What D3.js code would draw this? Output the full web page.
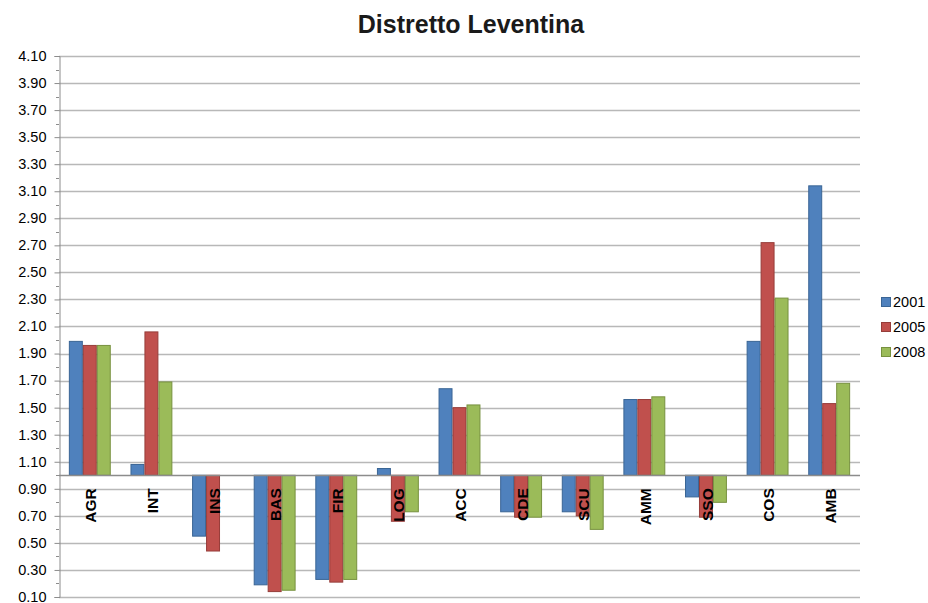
<!DOCTYPE html>
<html>
<head>
<meta charset="UTF-8">
<title>Distretto Leventina</title>
<script src="https://cdnjs.cloudflare.com/ajax/libs/d3/7.8.5/d3.min.js"></script>
<style>
  body { margin: 0; background: #fff; }
  text { font-family: "Liberation Sans", Arial, sans-serif; fill: #000; }
</style>
</head>
<body>
<script>
// data
var categories = ["AGR", "INT", "INS", "BAS", "FIR", "LOG", "ACC", "CDE", "SCU", "AMM", "SSO", "COS", "AMB"];
var series = ["2001", "2005", "2008"];
var v2001 = [1.99, 1.08, 0.55, 0.19, 0.23, 1.05, 1.64, 0.73, 0.73, 1.56, 0.84, 1.99, 3.14];
var v2005 = [1.96, 2.06, 0.44, 0.14, 0.21, 0.66, 1.50, 0.69, 0.70, 1.56, 0.69, 2.72, 1.53];
var v2008 = [1.96, 1.69, 1.00, 0.15, 0.23, 0.73, 1.52, 0.69, 0.60, 1.58, 0.80, 2.31, 1.68];
var yTicks = [0.10, 0.30, 0.50, 0.70, 0.90, 1.10, 1.30, 1.50, 1.70, 1.90, 2.10,
              2.30, 2.50, 2.70, 2.90, 3.10, 3.30, 3.50, 3.70, 3.90, 4.10];
var baseValue = 1.0;

var fills = ["#4F81BD", "#C0504D", "#9BBB59"];
var strokes = ["#3A6595", "#963D3A", "#77913F"];

var W = 928, H = 603;
var plot = {left: 59, right: 860, top: 56, bottom: 597};

var svg = d3.select("body").append("svg")
    .attr("width", W)
    .attr("height", H);

var x0 = d3.scaleBand()
    .domain(categories)
    .range([plot.left, plot.right])
    .paddingInner(0.32)
    .paddingOuter(0.16);

var x1 = d3.scaleBand()
    .domain(series)
    .range([0, x0.bandwidth()]);

var y = d3.scaleLinear()
    .domain([0.1, 4.1])
    .range([plot.bottom, plot.top]);

// gridlines
svg.append("g")
    .selectAll("line")
    .data(yTicks)
    .enter().append("line")
    .attr("x1", plot.left)
    .attr("x2", plot.right)
    .attr("y1", function(d) { return Math.round(y(d)) + 0.5; })
    .attr("y2", function(d) { return Math.round(y(d)) + 0.5; })
    .attr("stroke", "#B8B8B8")
    .attr("stroke-width", 1.3);

// y axis
var yAxis = svg.append("g")
    .attr("transform", "translate(" + (plot.left + 0.5) + ",0)")
    .call(d3.axisLeft(y).tickValues(yTicks).tickFormat(d3.format(".2f")).tickSize(5).tickPadding(8));
yAxis.select(".domain").attr("stroke", "#8C8C8C");
yAxis.selectAll(".tick line").attr("stroke", "#8C8C8C");
yAxis.selectAll(".tick text")
    .style("font-family", "'Liberation Sans', Arial, sans-serif")
    .style("font-size", "14.5px")
    .attr("dy", "0.3em")
    .attr("fill", "#000");

// minor ticks
var minor = yTicks.slice(0, -1).map(function(d) { return d + 0.1; });
svg.append("g")
    .selectAll("line")
    .data(minor)
    .enter().append("line")
    .attr("x1", plot.left - 3)
    .attr("x2", plot.left)
    .attr("y1", function(d) { return Math.round(y(d)) + 0.5; })
    .attr("y2", function(d) { return Math.round(y(d)) + 0.5; })
    .attr("stroke", "#8C8C8C");

// bars
var allValues = [v2001, v2005, v2008];
var rows = [];
categories.forEach(function(c, i) {
  series.forEach(function(s, j) {
    rows.push({cat: c, ser: s, idx: j, value: allValues[j][i]});
  });
});

svg.append("g")
    .selectAll("rect")
    .data(rows.filter(function(d) { return d.value !== baseValue; }))
    .enter().append("rect")
    .attr("x", function(d) { return x0(d.cat) + x1(d.ser) + 0.5; })
    .attr("width", x1.bandwidth() - 1)
    .attr("y", function(d) { return Math.min(y(d.value), y(baseValue)); })
    .attr("height", function(d) { return Math.abs(y(d.value) - y(baseValue)); })
    .attr("fill", function(d) { return fills[d.idx]; })
    .attr("stroke", function(d) { return strokes[d.idx]; })
    .attr("stroke-width", 1);

// category axis at base value
svg.append("line")
    .attr("x1", plot.left)
    .attr("x2", plot.right)
    .attr("y1", Math.round(y(baseValue)) + 0.5)
    .attr("y2", Math.round(y(baseValue)) + 0.5)
    .attr("stroke", "#8C8C8C")
    .attr("stroke-width", 1.3);

// category labels, rotated
svg.append("g")
    .selectAll("text")
    .data(categories)
    .enter().append("text")
    .attr("transform", function(d) {
      return "translate(" + (x0(d) + x0.bandwidth() / 2 + 1) + "," + (y(baseValue) + 13) + ") rotate(-90)";
    })
    .attr("text-anchor", "end")
    .attr("dy", "0.36em")
    .style("font-size", "15.5px")
    .style("font-weight", "bold")
    .text(function(d) { return d; });

// title
svg.append("text")
    .attr("x", 471)
    .attr("y", 33)
    .attr("text-anchor", "middle")
    .style("font-size", "25px")
    .style("font-weight", "bold")
    .style("fill", "#1a1a1a")
    .text("Distretto Leventina");

// legend
var legend = svg.append("g")
    .selectAll("g")
    .data(series)
    .enter().append("g")
    .attr("transform", function(d, i) { return "translate(881," + (302 + i * 25) + ")"; });

legend.append("rect")
    .attr("x", 0.5)
    .attr("y", -4.5)
    .attr("width", 9)
    .attr("height", 9)
    .attr("fill", function(d, i) { return fills[i]; })
    .attr("stroke", function(d, i) { return strokes[i]; });

legend.append("text")
    .attr("x", 12)
    .attr("dy", "0.35em")
    .style("font-size", "14.5px")
    .text(function(d) { return d; });
</script>
</body>
</html>
